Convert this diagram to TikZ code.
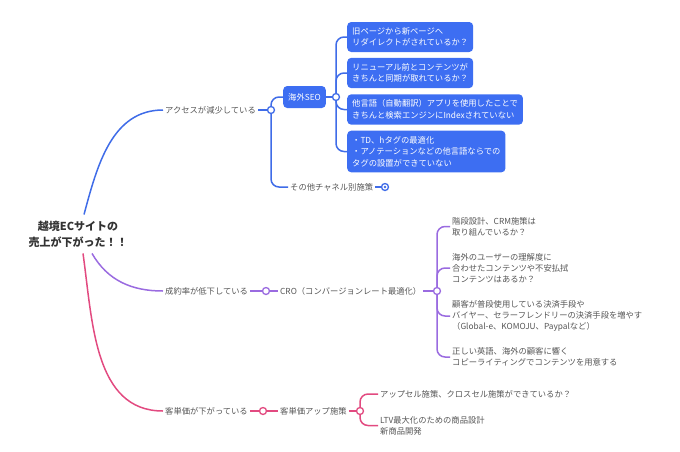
\documentclass[tikz,border=0pt]{standalone}
\usepackage{fontspec}
\setmainfont{Noto Sans CJK JP}
\usepackage{tikz}
\usetikzlibrary{positioning}

\definecolor{seoblue}{HTML}{3F6CE8}
\definecolor{boxblue}{HTML}{3D6EF2}
\definecolor{cropurple}{HTML}{9A6BE0}
\definecolor{aovpink}{HTML}{E24A80}
\definecolor{leafgray}{HTML}{555555}
\definecolor{rootgray}{HTML}{333333}

\tikzset{
  leaf/.style={anchor=west, inner xsep=2pt, inner ysep=2pt, text=leafgray, align=left,
    font=\fontsize{8.3}{11}\selectfont},
  seobox/.style={anchor=west, fill=boxblue, text=white, rounded corners=4pt, align=left,
    inner xsep=5pt, inner ysep=5.5pt, font=\fontsize{8.3}{11.5}\selectfont},
  knot/.style={circle, draw, fill=white, line width=1.3pt, minimum size=7pt, inner sep=0pt},
  link/.style={line width=1.5pt, rounded corners=8pt},
}

\begin{document}
\begin{tikzpicture}[x=1pt, y=-1pt]
\useasboundingbox (0,0) rectangle (680,451);
\node[align=center, text=rootgray, inner sep=6pt, font=\fontsize{11}{16}\selectfont\bfseries] (root) at (78,234) {越境ECサイトの\\売上が下がった！！};

\node[leaf] (access) at (163,110) {アクセスが減少している};
\node[knot, draw=seoblue] (c1) at (271,110) {};
\node[seobox, minimum height=22pt, inner ysep=4pt] (seo) at (283,97) {海外SEO};
\node[knot, draw=seoblue] (c2) at (336,97) {};
\node[seobox] (box1) at (347,37) {旧ページから新ページへ\\リダイレクトがされているか？};
\node[seobox] (box2) at (347,73) {リニューアル前とコンテンツが\\きちんと同期が取れているか？};
\node[seobox] (box3) at (347,109.5) {他言語（自動翻訳）アプリを使用したことで\\きちんと検索エンジンにIndexされていない};
\node[seobox] (box4) at (347,151.5) {・TD、hタグの最適化\\・アノテーションなどの他言語ならでの\\タグの設置ができていない};
\node[leaf] (other) at (288,187) {その他チャネル別施策};
\node[knot, draw=seoblue] (c7) at (385,187) {};
\fill[seoblue] (c7) circle (1.4pt);

\node[leaf] (cvr) at (163,291) {成約率が低下している};
\node[knot, draw=cropurple] (c3) at (266,291) {};
\node[leaf] (cro) at (278,291) {CRO（コンバージョンレート最適化）};
\node[knot, draw=cropurple] (c4) at (437,291) {};
\node[leaf] (step1) at (450,226.5) {階段設計、CRM施策は\\取り組んでいるか？};
\node[leaf] (step2) at (450,268) {海外のユーザーの理解度に\\合わせたコンテンツや不安払拭\\コンテンツはあるか？};
\node[leaf] (step3) at (450,316) {顧客が普段使用している決済手段や\\バイヤー、セラーフレンドリーの決済手段を増やす\\（Global-e、KOMOJU、Paypalなど）};
\node[leaf] (step4) at (450,357) {正しい英語、海外の顧客に響く\\コピーライティングでコンテンツを用意する};

\node[leaf] (aov) at (163,411) {客単価が下がっている};
\node[knot, draw=aovpink] (c5) at (263,411) {};
\node[leaf] (upsell) at (278,411) {客単価アップ施策};
\node[knot, draw=aovpink] (c6) at (360,411) {};
\node[leaf] (cross) at (378,394) {アップセル施策、クロスセル施策ができているか？};
\node[leaf] (ltv) at (378,425.5) {LTV最大化のための商品設計\\新商品開発};

\draw[link, seoblue] ([xshift=6pt]root.north) to[out=75, in=180] (access.west);
\draw[link, seoblue] (access) -- (c1);
\draw[link, seoblue] (c1.north) |- (seo.west);
\draw[link, seoblue] (c1.south) |- (other.west);
\draw[link, seoblue] (seo) -- (c2);
\draw[link, seoblue] (c2.north) |- (box1.west);
\draw[link, seoblue] (c2.north) |- (box2.west);
\draw[link, seoblue] (c2.south) |- (box3.west);
\draw[link, seoblue] (c2.south) |- (box4.west);
\draw[link, seoblue] (other) -- (c7);

\draw[link, cropurple] ([xshift=14pt]root.south) to[out=-60, in=180] (cvr.west);
\draw[link, cropurple] (cvr) -- (c3);
\draw[link, cropurple] (c3) -- (cro);
\draw[link, cropurple] (cro) -- (c4);
\draw[link, cropurple] (c4.north) |- (step1.west);
\draw[link, cropurple] (c4.north) |- (step2.west);
\draw[link, cropurple] (c4.south) |- (step3.west);
\draw[link, cropurple] (c4.south) |- (step4.west);

\draw[link, aovpink] ([xshift=5pt]root.south) to[out=-82, in=180] (aov.west);
\draw[link, aovpink] (aov) -- (c5);
\draw[link, aovpink] (c5) -- (upsell);
\draw[link, aovpink] (upsell) -- (c6);
\draw[link, aovpink] (c6.north) |- (cross.west);
\draw[link, aovpink] (c6.south) |- (ltv.west);
\end{tikzpicture}
\end{document}
